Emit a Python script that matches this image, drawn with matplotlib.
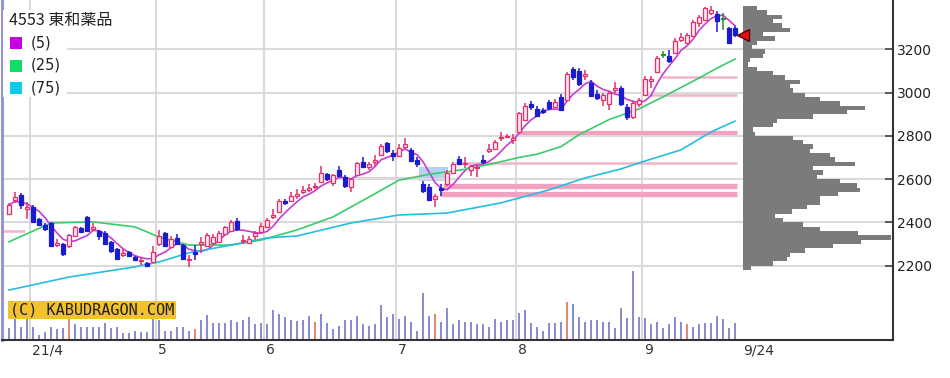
import matplotlib
matplotlib.use("Agg")
import matplotlib.pyplot as plt
from matplotlib.patches import Rectangle
import numpy as np
import pandas as pd

# Daily candles of 4553 東和薬品, 2021/3/26 .. 2021/9/24 (day index 0..121)
opens = [2440, 2505, 2525, 2460, 2470, 2415, 2390, 2395, 2295, 2300,
         2290, 2335, 2375, 2425, 2370, 2360, 2350, 2310, 2275, 2250,
         2262, 2240, 2220, 2212, 2215, 2300, 2350, 2285, 2328, 2295,
         2225, 2265, 2300, 2290, 2305, 2310, 2345, 2360, 2405, 2312,
         2305, 2335, 2355, 2380, 2425, 2450, 2497, 2500, 2520, 2540,
         2550, 2565, 2585, 2625, 2580, 2640, 2610, 2565, 2620, 2680,
         2655, 2680, 2710, 2765, 2720, 2705, 2750, 2735, 2690, 2575,
         2565, 2510, 2560, 2575, 2630, 2695, 2670, 2640, 2650, 2690,
         2730, 2740, 2790, 2795, 2780, 2820, 2875, 2945, 2925, 2920,
         2955, 2935, 2980, 2965, 3110, 3100, 3075, 3045, 2995, 2965,
         2945, 3010, 3020, 2935, 2885, 2945, 2990, 3055, 3095, 3175,
         3170, 3185, 3245, 3230, 3260, 3320, 3335, 3370, 3365, 3340,
         3300, 3300]
highs = [2490, 2540, 2535, 2495, 2480, 2420, 2395, 2400, 2325, 2305,
         2345, 2385, 2378, 2430, 2395, 2365, 2360, 2315, 2280, 2275,
         2268, 2245, 2235, 2218, 2290, 2365, 2355, 2335, 2345, 2300,
         2250, 2295, 2330, 2350, 2345, 2360, 2385, 2410, 2420, 2340,
         2335, 2360, 2395, 2420, 2460, 2510, 2510, 2540, 2555, 2570,
         2575, 2580, 2660, 2630, 2625, 2660, 2620, 2605, 2680, 2700,
         2680, 2710, 2760, 2770, 2735, 2760, 2790, 2745, 2700, 2590,
         2575, 2530, 2575, 2640, 2680, 2705, 2700, 2665, 2665, 2710,
         2760, 2780, 2820, 2810, 2810, 2910, 2950, 2960, 2940, 2930,
         2965, 2970, 2995, 3095, 3120, 3115, 3105, 3060, 3010, 3000,
         3005, 3050, 3030, 2945, 2960, 2975, 3075, 3075, 3170, 3190,
         3195, 3250, 3275, 3275, 3335, 3360, 3395, 3400, 3375, 3370,
         3305, 3310]
lows = [2435, 2490, 2460, 2415, 2395, 2385, 2362, 2285, 2285, 2245,
        2280, 2330, 2350, 2355, 2360, 2320, 2295, 2260, 2225, 2240,
        2238, 2222, 2205, 2195, 2210, 2290, 2285, 2280, 2295, 2225,
        2192, 2225, 2260, 2285, 2295, 2305, 2340, 2355, 2362, 2300,
        2300, 2320, 2350, 2375, 2415, 2445, 2480, 2495, 2510, 2530,
        2540, 2555, 2580, 2590, 2570, 2610, 2560, 2540, 2615, 2650,
        2640, 2660, 2705, 2720, 2685, 2700, 2740, 2680, 2655, 2535,
        2500, 2470, 2520, 2570, 2625, 2665, 2650, 2615, 2610, 2670,
        2720, 2735, 2775, 2790, 2760, 2815, 2870, 2920, 2885, 2900,
        2920, 2930, 2915, 2960, 3060, 3030, 3060, 2978, 2965, 2940,
        2920, 3000, 2940, 2875, 2880, 2935, 2985, 3020, 3090, 3160,
        3135, 3180, 3235, 3225, 3255, 3305, 3330, 3360, 3280, 3290,
        3225, 3255]
closes = [2480, 2515, 2480, 2470, 2400, 2390, 2370, 2290, 2305, 2255,
          2340, 2380, 2355, 2360, 2378, 2335, 2300, 2268, 2230, 2258,
          2245, 2228, 2225, 2200, 2262, 2335, 2290, 2325, 2300, 2230,
          2232, 2255, 2310, 2340, 2330, 2350, 2380, 2400, 2368, 2320,
          2325, 2350, 2385, 2410, 2435, 2500, 2490, 2520, 2530, 2550,
          2560, 2570, 2630, 2600, 2620, 2615, 2570, 2600, 2675, 2655,
          2670, 2690, 2755, 2730, 2705, 2745, 2760, 2685, 2668, 2545,
          2505, 2520, 2550, 2630, 2670, 2670, 2675, 2660, 2655, 2680,
          2740, 2770, 2795, 2800, 2790, 2905, 2940, 2935, 2890, 2910,
          2930, 2955, 2920, 3085, 3070, 3040, 3085, 2982, 2975, 2990,
          3000, 3020, 2945, 2885, 2950, 2965, 3065, 3065, 3160, 3175,
          3145, 3240, 3255, 3265, 3325, 3350, 3390, 3380, 3330, 3340,
          3230, 3265]
volumes = [58, 108, 67, 117, 67, 25, 42, 67, 55, 62,
           108, 80, 67, 67, 67, 67, 83, 58, 67, 37,
           33, 47, 42, 38, 108, 100, 47, 47, 67, 67,
           47, 55, 100, 125, 83, 83, 83, 100, 92, 100,
           113, 80, 83, 80, 150, 128, 117, 100, 97, 100,
           122, 92, 128, 83, 55, 70, 100, 100, 122, 78,
           70, 78, 175, 113, 128, 105, 122, 92, 47, 233,
           122, 128, 92, 158, 78, 98, 92, 92, 78, 78,
           67, 107, 92, 98, 98, 137, 152, 83, 67, 47,
           83, 83, 92, 188, 182, 113, 92, 98, 98, 92,
           92, 62, 158, 108, 347, 113, 108, 78, 92, 62,
           78, 113, 92, 78, 67, 78, 83, 83, 122, 105,
           62, 83]
red_volume_days = [10, 31, 51, 71, 93, 113]

ma25_days = [0, 7, 14, 21, 25, 30, 37, 42, 48, 54, 60, 65, 70, 76, 81, 85,
             88, 92, 95, 100, 105, 109, 115, 118, 121]
ma25_values = [2310, 2397, 2402, 2379, 2332, 2295, 2295, 2318, 2365, 2425, 2517, 2595,
               2622, 2645, 2674, 2700, 2715, 2750, 2805, 2875, 2925, 2980, 3067, 3113, 3155]
ma75_days = [0, 10, 21, 25, 30, 37, 43, 48, 57, 65, 73, 82, 90, 96, 102, 105, 112, 117, 121]
ma75_values = [2087, 2147, 2194, 2217, 2259, 2295, 2328, 2337, 2397, 2434, 2443, 2490,
               2550, 2605, 2647, 2675, 2735, 2818, 2868]

month_days = [4, 25, 43, 65, 85, 106]
month_labels = ["21/4", "5", "6", "7", "8", "9"]
last_day_label = "9/24"
price_ticks = [2200, 2400, 2600, 2800, 3000, 3200]

# price-by-volume profile, 20 yen bins starting at 2180
profile_levels = np.arange(2180, 3400, 20)
profile_volume = [8, 30, 44, 47, 62, 90, 118, 148, 115, 77,
                  60, 40, 32, 49, 64, 77, 77, 95, 117, 114,
                  97, 74, 80, 70, 112, 92, 87, 67, 70, 60,
                  50, 12, 10, 30, 34, 70, 104, 122, 97, 77,
                  62, 50, 47, 57, 42, 30, 14, 5, 7, 20,
                  22, 9, 14, 32, 20, 47, 39, 30, 39, 24, 14]

# horizontal pink levels: price, first day, last day, heavy band?
level_prices = [2360, 2605, 2812, 2675, 2568, 2530, 3072, 2990]
level_from = [-1.2, 57.3, 84.8, 74.3, 72.3, 71.8, 108.8, 106.5]
level_to = [2.7, 68.5, 121.3, 121.3, 121.3, 121.3, 121.3, 121.3]
level_heavy = [False, False, True, False, True, True, False, False]

gap_days = (68, 69)          # price window left open between these two sessions
gap_box_end = 73.2
last_price = 3265

W, H = 950, 378
UP_EDGE, UP_FACE = "#e3306a", "#ffe6ee"
DOWN = "#1b1bcf"
FLAT = "#2c8c2c"
GRID = "#dadada"


def fig_xy(px, py):
    return px / W, 1 - py / H


fig = plt.figure(figsize=(W / 100, H / 100), dpi=100)
ax = fig.add_axes([2 / W, 38 / H, 891 / W, 340 / H])
vax = ax.twinx()
ax.set_zorder(vax.get_zorder() + 1)
ax.patch.set_visible(False)

days = np.arange(len(closes))
o, h, l, c = (np.asarray(a, dtype=float) for a in (opens, highs, lows, closes))

ax.set_xlim(-7 / 6, 884 / 6)
ax.set_ylim(1856, 3428)

# grid
ax.set_yticks(price_ticks)
ax.grid(axis="y", color=GRID, lw=1.5, zorder=0)
ax.vlines(np.array(month_days) - 0.5, 1856, 3428, color=GRID, lw=1.5, zorder=0)

# volume
vol_colors = ["#e08878" if d in red_volume_days else "#8c8cd0" for d in days]
vax.bar(days, volumes, width=0.32, color=vol_colors)
vax.set_ylim(0, 1700)
vax.set_yticks([])
for s in vax.spines.values():
    s.set_visible(False)

# pink levels and gap window
for price, x0, x1, heavy in zip(level_prices, level_from, level_to, level_heavy):
    ax.hlines(price, x0, x1, color="#f2a2c0" if heavy else "#f0b4cb",
              lw=3.8 if heavy else 1.8, zorder=1)
g0, g1 = gap_days
ax.add_patch(Rectangle((g0 + 0.3, highs[g1]), gap_box_end - g0 - 0.3, lows[g0] - highs[g1],
                       facecolor="#a9c9f2", edgecolor="none", alpha=0.85, zorder=1))

# moving averages
ma5 = pd.Series(closes).rolling(5, min_periods=1).mean()
ax.plot(days, ma5, color="#c83cd0", lw=1.2, zorder=2)
ax.plot(ma25_days, ma25_values, color="#3acb6a", lw=1.2, zorder=2)
ax.plot(ma75_days, ma75_values, color="#25bde0", lw=1.2, zorder=2)

# candles
edge = np.where(c > o, UP_EDGE, np.where(c < o, DOWN, FLAT))
face = np.where(c > o, UP_FACE, np.where(c < o, DOWN, FLAT))
ax.vlines(days, l, h, colors=edge, lw=1.1, zorder=3)
ax.bar(days, np.maximum(np.abs(c - o), 5), bottom=np.minimum(o, c), width=0.72,
       color=face, edgecolor=edge, lw=0.9, zorder=4)

# volume profile on the right
ax.barh(profile_levels, np.asarray(profile_volume) / 6, left=122.28, height=20,
        align="edge", color="#7b7b7b", zorder=2)
ax.plot(122.3, last_price, marker="<", ms=8, mfc="#e21010", mec="#5a0000", mew=1,
        zorder=6, clip_on=False)

# axes
ax.set_xticks([])
ax.yaxis.tick_right()
ax.tick_params(axis="y", direction="in", length=6, width=1.2, color="#444444",
               pad=3, labelsize=10, labelcolor="#222222")
ax.spines["top"].set_visible(False)
ax.spines["left"].set_color("#8c8cd8")
ax.spines["left"].set_linewidth(2)
ax.spines["right"].set_color("#333333")
ax.spines["right"].set_linewidth(1.5)
ax.spines["bottom"].set_color("#333333")
ax.spines["bottom"].set_linewidth(1.5)

xform = ax.get_xaxis_transform()
for d, lab in zip(month_days, month_labels):
    ax.text(d - 0.2, -10 / 340, lab, transform=xform, ha="left", va="center",
            fontsize=10, color="#333333")
ax.text(len(closes) + 0.3, -10 / 340, last_day_label, transform=xform, ha="left",
        va="center", fontsize=10, color="#333333")

# legend block
fig.patches.append(Rectangle(fig_xy(3, 97), 64 / W, 87 / H, transform=fig.transFigure,
                             facecolor="white", edgecolor="none", zorder=1))
fig.patches.append(Rectangle(fig_xy(3, 31), 120 / W, 21 / H, transform=fig.transFigure,
                             facecolor="white", edgecolor="none", zorder=1))
fig.text(*fig_xy(9, 21), "4553 東和薬品", fontsize=11.5, va="center", ha="left",
         family=["Noto Sans CJK JP", "DejaVu Sans"], color="#222222", zorder=3)
for row, (lab, col) in enumerate([("(5)", "#c800e0"), ("(25)", "#10dc66"), ("(75)", "#10c8e8")]):
    cy = 43 + row * 22.5
    fig.patches.append(Rectangle(fig_xy(10, cy + 6), 12 / W, 12 / H, transform=fig.transFigure,
                                 facecolor=col, edgecolor="none", zorder=2))
    fig.text(*fig_xy(31, cy), lab, fontsize=10.5, va="center", ha="left", color="#222222", zorder=3)

# watermark
fig.text(*fig_xy(10, 310), "(C) KABUDRAGON.COM", fontsize=11, family="DejaVu Sans Mono",
         va="center", ha="left", color="#222222", zorder=3,
         bbox=dict(boxstyle="square,pad=0.12", facecolor="#f2c12e", edgecolor="none"))

fig.savefig("out.png", dpi=100, facecolor="white")
